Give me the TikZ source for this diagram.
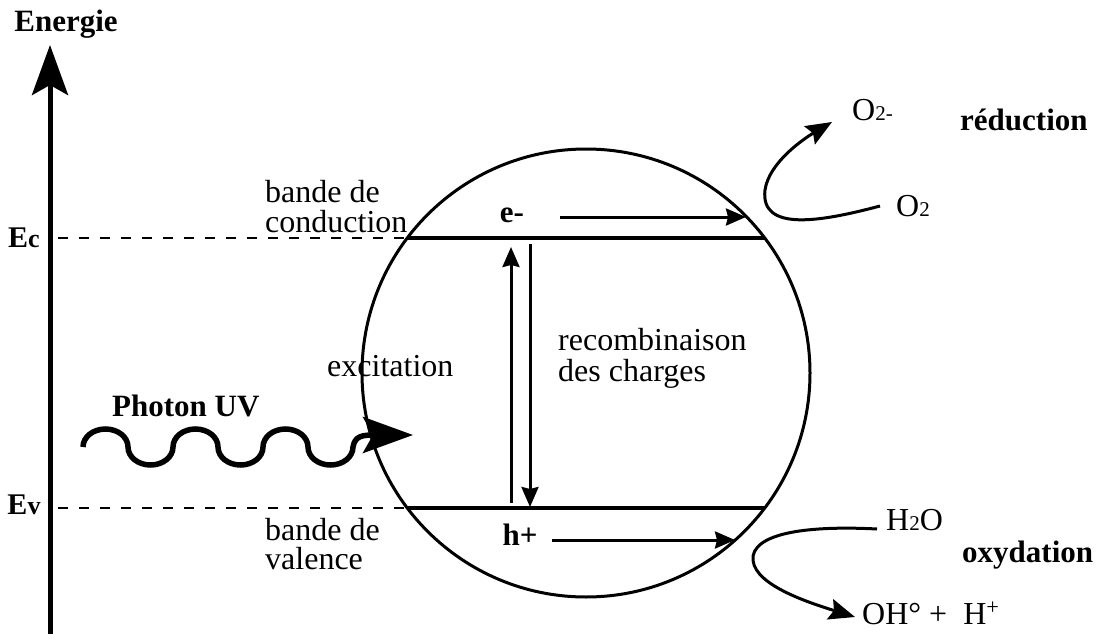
\documentclass[tikz,border=0pt]{standalone}
\usepackage{fontspec}
\setmainfont{Liberation Serif}
\usetikzlibrary{arrows.meta}
\begin{document}
\begin{tikzpicture}[x=1pt,y=-1pt,
  txt/.style={inner sep=0pt, font=\fontsize{32}{36}\selectfont},
  btxt/.style={inner sep=0pt, font=\fontsize{31}{36}\selectfont\bfseries},
  lbl/.style={inner sep=0pt, font=\fontsize{30}{34}\selectfont\bfseries},
  band/.style={line width=3.2pt},
  lvl/.style={line width=2.8pt, dash pattern=on 10pt off 11pt},
  bigtip/.style={-{Stealth[length=50pt,width=36pt,inset=10pt]}},
  smallarrow/.style={line width=3pt, -{Stealth[length=20pt,width=17pt,inset=2pt]}},
  curvearrow/.style={line width=3pt, -{Stealth[length=26pt,width=21pt,inset=4pt]}},
]
\useasboundingbox (0,0) rectangle (1103,634);

% energy axis
\coordinate (axb) at (50,634);
\coordinate (axt) at (50,45);
\draw[line width=5pt, bigtip] (axb) -- (axt);
\node[btxt, anchor=base] (energie) at (66,32) {Energie};
\node[lbl, anchor=base] (ec) at (24,247) {E\fontsize{26}{30}\selectfont c};
\node[lbl, anchor=base] (ev) at (24,514) {E\fontsize{26}{30}\selectfont v};

% particle
\node[circle, draw, line width=3pt, minimum size=448pt, inner sep=0pt] (ball) at (586,373) {};

% bands
\coordinate (cbl) at (407.3,238);
\coordinate (cbr) at (764.7,238);
\coordinate (vbl) at (407.3,508);
\coordinate (vbr) at (764.7,508);
\draw[band] (cbl) -- (cbr);
\draw[band] (vbl) -- (vbr);
\coordinate (ecL) at (58,238);
\coordinate (evL) at (58,508);
\draw[lvl] (ecL) -- (cbl);
\draw[lvl] (evL) -- (vbl);

\node[txt, anchor=base west] (bc1) at (265,202) {bande de};
\node[txt, anchor=base west] (bc2) at (265,232) {conduction};
\node[txt, anchor=base west] (bv1) at (265,540) {bande de};
\node[txt, anchor=base west] (bv2) at (265,569) {valence};

% electrons / holes
\node[btxt, anchor=base] (em) at (512,222) {e-};
\node[btxt, anchor=base] (hp) at (520,545) {h+};
\coordinate (ea) at (560,217);
\coordinate (eb) at (746,217);
\draw[smallarrow] (ea) -- (eb);
\coordinate (ha) at (552,540);
\coordinate (hb) at (735,540);
\draw[smallarrow] (ha) -- (hb);

% excitation / recombination
\coordinate (upa) at (511,503);
\coordinate (upb) at (511,247);
\draw[smallarrow] (upa) -- (upb);
\coordinate (dna) at (530,244);
\coordinate (dnb) at (530,507);
\draw[smallarrow] (dna) -- (dnb);
\node[txt, anchor=base west] (rec1) at (558,350) {recombinaison};
\node[txt, anchor=base west] (rec2) at (558,381) {des charges};
\node[txt, anchor=base west] (exc) at (327,376) {excitation};

% photon
\node[btxt, anchor=base west] (photon) at (112,416) {Photon UV};
\coordinate (wa) at (83,447);
\coordinate (wtip) at (413,435);
\draw[line width=5.5pt, bigtip] (wa)
  arc[start angle=180, end angle=0, x radius=22.5pt, y radius=18pt]
  arc[start angle=180, end angle=360, x radius=22.5pt, y radius=18pt]
  arc[start angle=180, end angle=0, x radius=22.5pt, y radius=18pt]
  arc[start angle=180, end angle=360, x radius=22.5pt, y radius=18pt]
  arc[start angle=180, end angle=0, x radius=22.5pt, y radius=18pt]
  arc[start angle=180, end angle=360, x radius=22.5pt, y radius=18pt]
  .. controls (355,436) and (362,435) .. (wtip);

% reduction
\node[txt, anchor=base west] (o2m) at (852,120) {O{\fontsize{21}{24}\selectfont 2-}};
\node[btxt, anchor=base west] (red) at (960,130) {réduction};
\node[txt, anchor=base west] (o2) at (896,216) {O{\fontsize{21}{24}\selectfont 2}};
\coordinate (ra) at (880,206);
\coordinate (rb) at (832,122);
\draw[curvearrow] (ra) .. controls (820,222) and (760,232) .. (765,190) .. controls (769,162) and (805,138) .. (rb);

% oxidation
\node[txt, anchor=base west] (h2o) at (886,530) {H{\fontsize{21}{24}\selectfont 2}O};
\node[btxt, anchor=base west] (oxy) at (962,562) {oxydation};
\node[txt, anchor=base west] (ohh) at (862,624) {OH° +\ \ H\textsuperscript{+}};
\coordinate (oa) at (877,529);
\coordinate (ob) at (855,617);
\draw[curvearrow] (oa) .. controls (820,526) and (758,530) .. (753,556) .. controls (750,582) and (800,600) .. (ob);
\end{tikzpicture}
\end{document}
